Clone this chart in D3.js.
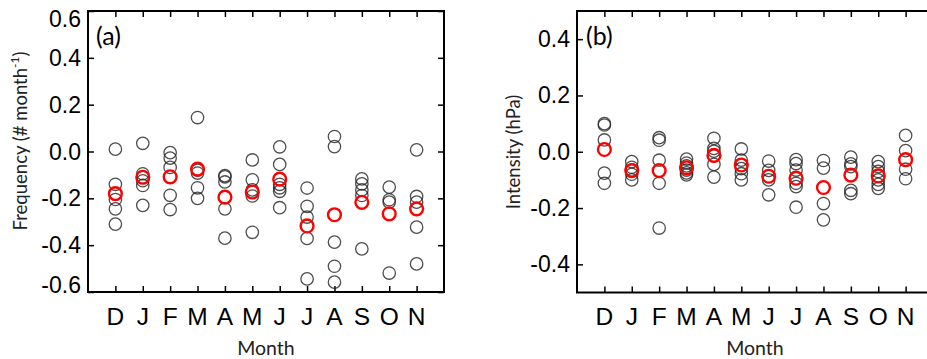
<!DOCTYPE html>
<html>
<head>
<meta charset="utf-8">
<script src="https://cdn.jsdelivr.net/npm/d3@7"></script>
<style>
body{margin:0;background:#fff;}
svg{display:block;}
</style>
</head>
<body>
<div id="chart"></div>
<script>
var w=927, h=359;

//Month categories
var months=["D","J","F","M","A","M","J","J","A","S","O","N"];

//Panel (a): frequency members (black) and mean (red)
var freqMembers=[
  [0.01,-0.14,-0.18,-0.205,-0.245,-0.31],
  [0.035,-0.095,-0.11,-0.125,-0.145,-0.23],
  [-0.005,-0.028,-0.068,-0.187,-0.248],
  [0.145,-0.08,-0.092,-0.155,-0.2],
  [-0.103,-0.108,-0.13,-0.245,-0.37],
  [-0.036,-0.121,-0.164,-0.19,-0.345],
  [0.02,-0.055,-0.14,-0.155,-0.17,-0.24],
  [-0.156,-0.234,-0.28,-0.371,-0.544],
  [0.064,0.021,-0.387,-0.49,-0.558],
  [-0.117,-0.138,-0.164,-0.188,-0.416],
  [-0.152,-0.206,-0.216,-0.519],
  [0.007,-0.192,-0.216,-0.323,-0.48]
];
var freqMean=[-0.18,-0.11,-0.108,-0.075,-0.195,-0.173,-0.118,-0.318,-0.27,-0.217,-0.266,-0.245];
var freqTicks=[-0.6,-0.4,-0.2,0,0.2,0.4,0.6];

//Panel (b): intensity members (black) and mean (red)
var intMembers=[
  [0.1,0.095,0.042,-0.076,-0.112],
  [-0.035,-0.055,-0.065,-0.08,-0.1],
  [0.05,0.041,-0.03,-0.112,-0.271],
  [-0.026,-0.04,-0.05,-0.065,-0.075,-0.082],
  [0.048,0.012,0.002,-0.015,-0.045,-0.09],
  [0.01,-0.03,-0.06,-0.078,-0.1],
  [-0.033,-0.066,-0.1,-0.153],
  [-0.028,-0.042,-0.065,-0.112,-0.124,-0.197],
  [-0.031,-0.058,-0.184,-0.242],
  [-0.019,-0.043,-0.053,-0.137,-0.149],
  [-0.035,-0.053,-0.07,-0.1,-0.116,-0.13],
  [0.058,0.004,-0.062,-0.096]
];
var intMean=[0.008,-0.067,-0.067,-0.057,-0.013,-0.047,-0.087,-0.094,-0.127,-0.083,-0.086,-0.028];
var intTicks=[-0.4,-0.2,0,0.2,0.4];

var svg=d3.select("#chart").append("svg").attr("width",w).attr("height",h);

function fmt(v){ return (Math.abs(v)<1e-9?0:v).toFixed(1); }

function drawPanel(opt){
  var x=d3.scaleLinear().domain([0,months.length+1]).range([opt.left,opt.right]);
  var y=d3.scaleLinear().domain(opt.domain).range([opt.bottom,opt.top]);
  var g=svg.append("g");
  var idx=d3.range(months.length);

  //inward ticks on all four sides
  g.append("g").attr("transform","translate(0,"+opt.bottom+")")
   .call(d3.axisTop(x).tickValues(idx.map(function(i){return i+1;})).tickSize(6).tickFormat(""));
  g.append("g").attr("transform","translate(0,"+opt.top+")")
   .call(d3.axisBottom(x).tickValues(idx.map(function(i){return i+1;})).tickSize(6).tickFormat(""));
  g.append("g").attr("transform","translate("+opt.left+",0)")
   .call(d3.axisRight(y).tickValues(opt.ticks).tickSize(6).tickFormat(""));
  g.append("g").attr("transform","translate("+opt.right+",0)")
   .call(d3.axisLeft(y).tickValues(opt.ticks).tickSize(6).tickFormat(""));
  g.selectAll(".domain").remove();
  g.selectAll(".tick line").attr("stroke","#000").attr("stroke-width",1.5);

  //box
  g.append("rect").attr("x",opt.left).attr("y",opt.top)
   .attr("width",opt.right-opt.left).attr("height",opt.bottom-opt.top)
   .attr("fill","none").attr("stroke","#000").attr("stroke-width",2);

  //y labels
  g.append("g").selectAll("text").data(opt.ticks).enter().append("text")
   .attr("x",opt.left-7)
   .attr("y",function(d){
      var p=y(d);
      if(Math.abs(p-opt.top)<1) p+=8;
      if(Math.abs(p-opt.bottom)<1) p-=7;
      return p;})
   .attr("text-anchor","end").attr("dominant-baseline","central")
   .attr("font-family","Liberation Sans, Arial, sans-serif").attr("font-size",23)
   .text(fmt);

  //x labels
  g.append("g").selectAll("text").data(months).enter().append("text")
   .attr("x",function(d,i){return x(i+1);})
   .attr("y",316)
   .attr("text-anchor","middle").attr("dominant-baseline","central")
   .attr("font-family","Liberation Sans, Arial, sans-serif").attr("font-size",24.5)
   .text(function(d){return d;});

  //axis titles
  g.append("text").attr("x",(opt.left+opt.right)/2).attr("y",347)
   .attr("text-anchor","middle").attr("dominant-baseline","central")
   .attr("font-family","Lato, sans-serif").attr("font-size",19.5).attr("fill","#222")
   .text("Month");
  var yt=g.append("text")
   .attr("transform","translate("+opt.titleX+","+opt.titleY+")rotate(-90)")
   .attr("text-anchor","middle").attr("dominant-baseline","central")
   .attr("font-family","Lato, sans-serif").attr("font-size",18.5).attr("fill","#222");
  yt.append("tspan").text(opt.title);
  if(opt.sup){
    yt.append("tspan").attr("dy",-6).attr("font-size",12).text(opt.sup);
    yt.append("tspan").attr("dy",6).text(")");
  }

  //panel label
  g.append("text").attr("x",opt.left+opt.labelDx).attr("y",35)
   .attr("dominant-baseline","central")
   .attr("font-family","Lato, sans-serif").attr("font-size",25)
   .text(opt.label);

  //member circles
  var pts=[];
  opt.members.forEach(function(arr,i){ arr.forEach(function(v){ pts.push({i:i,v:v}); }); });
  g.append("g").selectAll("circle").data(pts).enter().append("circle")
   .attr("cx",function(d){return x(d.i+1);})
   .attr("cy",function(d){return y(d.v);})
   .attr("r",6.2)
   .attr("fill","none").attr("stroke","#222").attr("stroke-opacity",0.8).attr("stroke-width",1.3);

  //mean circles
  g.append("g").selectAll("circle").data(opt.mean).enter().append("circle")
   .attr("cx",function(d,i){return x(i+1);})
   .attr("cy",function(d){return y(d);})
   .attr("r",6.4)
   .attr("fill","none").attr("stroke","#ff0000").attr("stroke-width",2.4);
}

drawPanel({left:88,right:444,top:11,bottom:292,domain:[-0.6,0.6],ticks:freqTicks,
  members:freqMembers,mean:freqMean,label:"(a)",labelDx:8,
  title:"Frequency (# month",sup:"-1",titleX:20,titleY:141});
drawPanel({left:577,right:933,top:11,bottom:292.5,domain:[-0.5,0.5],ticks:intTicks,
  members:intMembers,mean:intMean,label:"(b)",labelDx:9,
  title:"Intensity (hPa)",sup:null,titleX:513,titleY:152});
</script>
</body>
</html>
